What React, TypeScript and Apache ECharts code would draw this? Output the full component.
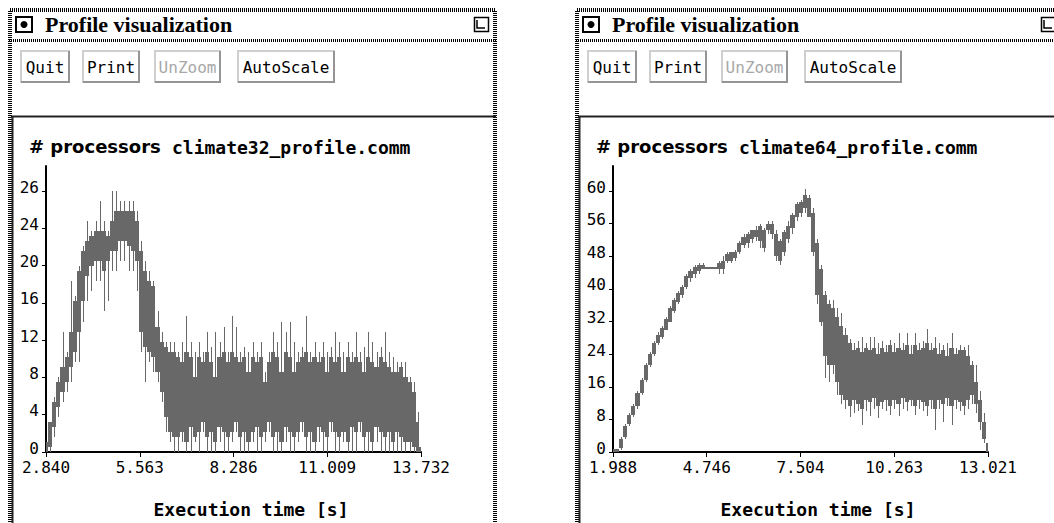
import React, { useEffect, useRef } from "react";
import * as echarts from "echarts";

// ---------------- data ----------------
const windowTitle = "Profile visualization";
const buttonLabels = ["Quit", "Print", "UnZoom", "AutoScale"];
const disabledButton = "UnZoom";
const yAxisTitle = "# processors";
const xAxisTitle = "Execution time [s]";

const leftFile = "climate32_profile.comm";
const leftXTicks = [2.84, 5.563, 8.286, 11.009, 13.732];
const leftYLabels = ["0", "4", "8", "12", "16", "20", "24", "26"];
const leftTime = [
  2.84, 2.96, 3.08, 3.2, 3.32, 3.44, 3.56, 3.68, 3.8, 3.92, 4.04, 4.16, 4.28, 4.4, 4.52, 4.64,
  4.76, 4.88, 5.0, 5.12, 5.24, 5.36, 5.48, 5.6, 5.72, 5.84, 5.96, 6.08, 6.2, 6.32, 6.44, 6.56,
  6.68, 6.8, 6.92, 7.04, 7.16, 7.28, 7.4, 7.52, 7.64, 7.76, 7.88, 8.0, 8.12, 8.24, 8.36, 8.48,
  8.6, 8.72, 8.84, 8.96, 9.08, 9.2, 9.32, 9.44, 9.56, 9.68, 9.8, 9.92, 10.04, 10.16, 10.28, 10.4,
  10.52, 10.64, 10.76, 10.88, 11.0, 11.12, 11.24, 11.36, 11.48, 11.6, 11.72, 11.84, 11.96, 12.08,
  12.2, 12.32, 12.44, 12.56, 12.68, 12.8, 12.92, 13.04, 13.16, 13.28, 13.4, 13.52, 13.64, 13.73,
];
const leftMin = [
  0, 0, 1.5, 3.5, 5, 6, 7, 9, 9, 13, 15, 16, 17, 17, 14, 15,
  18, 18, 19, 19, 18, 18, 16, 10, 7, 9, 8, 7, 5, 2, 1, 0,
  0, 1, 0, 0, 1, 0, 2, 0, 0, 0, 1, 0, 0, 1, 2, 0,
  0, 0, 1, 0, 0, 1, 2, 0, 0, 0, 1, 0, 0, 1, 2, 0,
  0, 0, 1, 0, 0, 2, 0, 0, 1, 0, 0, 0, 2, 0,
  0, 0, 1, 0, 0, 0, 0, 0, 0, 0, 0, 0, 0, 0,
];
const leftLow = [
  0, 0.5, 2.5, 4.5, 6, 7, 8.5, 10, 12, 15, 17.5, 18.5, 19, 19, 18, 19,
  20, 20, 21, 21, 20.5, 20, 19, 12, 10.5, 10, 9.5, 8, 6, 3.5, 2, 1.5,
  1.5, 2, 1, 2.5, 1.5, 2, 3, 1.5, 2, 1, 2.5, 2, 1.5, 2, 3, 1.5,
  2, 1, 2, 2.5, 1.5, 2, 3, 1.5, 2, 1, 2.5, 2, 1.5, 2, 3, 1.5,
  2, 1, 2.5, 2, 1.5, 3, 2, 1.5, 2, 1, 2.5, 2, 3, 1.5,
  2, 1, 2.5, 2, 1.5, 2, 1, 2, 1.5, 1, 1, 0.5, 0, 0,
];
const leftHigh = [
  1, 3, 5, 7, 8.5, 9.5, 12, 15, 18, 20, 21, 21.5, 22, 22, 22, 21.5,
  23, 24, 24, 24, 24, 24, 23, 20, 18, 17, 16.5, 12.5, 11, 10.5, 10, 10,
  9.5, 9, 10, 9.5, 7.5, 9.5, 9, 10, 9, 7.5, 9.5, 10, 9, 10, 9.5, 9,
  9.5, 8, 9.5, 9, 9.5, 7, 9, 10, 9.5, 8, 10, 9.5, 8, 9, 9.5, 10,
  9, 9.5, 9, 9.5, 8, 9.5, 9, 9.5, 8, 9.5, 9, 9.5, 9, 8,
  9.5, 9, 8.5, 9.5, 9, 8.5, 8, 8, 8.5, 7.5, 7, 6, 3, 0.5,
];
const leftMax = [
  1, 3, 5.5, 7.5, 12, 10, 17, 15.5, 18.5, 20.5, 23, 22, 23, 25, 23, 22,
  26, 26, 25, 25, 25, 25, 24, 21, 19, 18, 17, 14, 12, 11, 11, 11,
  10, 11, 13.5, 11, 10, 11, 10, 12, 10.5, 12, 11, 12.5, 10, 13.5, 12.5, 10,
  10.5, 10, 11, 10, 11, 8, 10, 12, 11, 13, 12, 13, 11, 10, 10.5, 13.5,
  10, 11, 10, 11, 10, 10.5, 12, 11, 10, 11, 10, 12, 10, 10.5,
  12, 11, 10, 10.5, 12, 10, 9.5, 9, 9, 9, 7.5, 7, 4, 1,
];

const rightFile = "climate64_profile.comm";
const rightXTicks = [1.988, 4.746, 7.504, 10.263, 13.021];
const rightYLabels = ["0", "8", "16", "24", "32", "40", "48", "56", "60"];
const rightTime = [
  1.988, 2.108, 2.228, 2.348, 2.468, 2.588, 2.708, 2.828, 2.948, 3.068, 3.188, 3.308, 3.428, 3.548,
  3.668, 3.788, 3.908, 4.028, 4.148, 4.268, 4.388, 4.508, 4.628, 4.748, 4.868, 4.988, 5.108, 5.228,
  5.348, 5.468, 5.588, 5.708, 5.828, 5.948, 6.068, 6.188, 6.308, 6.428, 6.548, 6.668, 6.788, 6.908,
  7.028, 7.148, 7.268, 7.388, 7.508, 7.628, 7.748, 7.868, 7.988, 8.108, 8.228, 8.348, 8.468, 8.588,
  8.708, 8.828, 8.948, 9.068, 9.188, 9.308, 9.428, 9.548, 9.668, 9.788, 9.908, 10.028, 10.148,
  10.268, 10.388, 10.508, 10.628, 10.748, 10.868, 10.988, 11.108, 11.228, 11.348, 11.468, 11.588,
  11.708, 11.828, 11.948, 12.068, 12.188, 12.308, 12.428, 12.548, 12.668, 12.788, 12.908, 13.021,
];
const rightMin = [
  0, 0, 0.5, 3, 6, 8, 10, 13, 16, 19.5, 22, 24.5, 26, 28, 30, 32, 34, 35.5, 37.5, 39, 40, 41, 42,
  42, 42, 42,
  41, 41, 43.5, 43.5, 44, 45.5, 47, 47, 48, 48.5, 47, 46, 50, 49, 44, 43, 45, 48, 50, 53, 54, 55, 54, 45,
  34, 29, 17, 16, 18, 13, 11, 10, 8,
  9, 9.5, 6.2, 9.5, 8.2, 10, 7.8, 10, 9.5, 8.5, 10, 8.2, 10, 9.5, 10.5, 8.5, 10, 9.5, 8.2, 10,
  5.1, 10, 7, 10.5, 6.2, 10, 9.5, 8.5, 10,
  11, 9, 5, 2, 0,
];
const rightLow = [
  0, 0, 1, 3.5, 6.5, 8.5, 10.5, 13.5, 16.5, 20, 22.5, 25, 26.5, 28, 30, 32.5, 34.5, 36, 38, 40, 41, 41.5, 42,
  42, 42, 42,
  42, 42, 44, 44, 44.5, 46, 47.5, 48, 49, 49.5, 48.5, 47, 51, 50, 45, 44, 46, 49, 51.5, 54, 55, 56, 54, 46,
  36, 30, 22, 20, 20, 16, 13, 12, 10.5,
  12, 11, 10, 12, 11.5, 12.5, 10.5, 11.5, 12, 10.5, 12, 11, 12.5, 11.5, 12, 10.5, 12, 11.5, 10.5, 12,
  10, 12, 11, 12.5, 10.5, 12, 11.5, 10.5, 12,
  13, 11, 7, 3, 0,
];
const rightHigh = [
  0.6, 0.6, 3, 6, 8.5, 10.5, 13.5, 16.5, 20, 22.5, 25, 27, 28.5, 30.5, 33, 35, 36.5, 38, 40.5, 41.5, 42.5, 43, 43,
  42.6, 42.6, 42.6,
  43.5, 44, 45.5, 46, 46, 48, 49.5, 50, 51, 51, 52, 51, 52.5, 52.5, 50, 48.5, 50.5, 52, 54.5, 57, 57.5, 59, 58.5, 55,
  48, 42, 36, 34, 33, 31, 29, 27, 25,
  23.5, 24, 23, 24, 23.5, 24, 22.5, 24, 23, 24.5, 23, 24, 23.5, 24.5, 22.5, 24.5, 23.5, 24, 25, 23.5,
  24, 22.5, 23.5, 22, 24, 22.5, 23.5, 23.5, 22,
  20, 16, 12, 7, 2,
];
const rightMax = [
  0.6, 0.6, 3.5, 6.5, 9, 11, 14, 17, 20.5, 23, 25.5, 27.5, 29, 31, 33.5, 35.5, 37, 38.5, 41, 42, 43, 43.5, 43.5,
  42.6, 42.6, 42.6,
  44, 45, 46, 46, 46.5, 48.5, 50, 50.5, 51, 52, 52.5, 51.5, 53, 53, 51, 49, 51, 53, 55, 57.5, 58, 60.5, 59, 56,
  49, 43, 37, 35, 35, 33, 32, 28.5, 26,
  25, 25.5, 26.5, 25, 26.5, 26.5, 25, 25.5, 24.5, 25.7, 25, 27.3, 25, 27.3, 24.5, 27.3, 25, 25.5, 28.3, 25,
  26.5, 25, 24.5, 25, 27.3, 24, 24.5, 24.2, 24.5,
  21, 20, 14, 9, 3,
];

// ---------------- layout / style ----------------
const WIN_DX = 567; // horizontal offset of the second window
const GRID = { left: 46, top: 166, width: 375, height: 286 };
const Y_HEADROOM = 286 / 261; // axis line runs above the last labelled tick
const GRAY = "#686868";
const MONO = '"DejaVu Sans Mono", monospace';

function bandRenderer(times: number[]) {
  return (params: any, api: any) => {
    const k = params.dataIndex;
    const n = times.length;
    const t = api.value(0);
    const xk = api.coord([t, 0])[0];
    const xNextRaw = k + 1 < n ? api.coord([times[k + 1], 0])[0] : NaN;
    const xPrevRaw = k > 0 ? api.coord([times[k - 1], 0])[0] : NaN;
    const xNext = isNaN(xNextRaw) ? xk + (xk - xPrevRaw) : xNextRaw;
    const xPrev = isNaN(xPrevRaw) ? xk - (xNext - xk) : xPrevRaw;
    const left = Math.round((xPrev + xk) / 2);
    const right = Math.round((xk + xNext) / 2);
    const yMin = Math.round(api.coord([t, api.value(1)])[1]);
    const yLo = Math.round(api.coord([t, api.value(2)])[1]);
    const yHi = Math.round(api.coord([t, api.value(3)])[1]);
    const yMax = Math.round(api.coord([t, api.value(4)])[1]);
    const cx = Math.round(xk) + 0.5;
    return {
      type: "group",
      children: [
        {
          type: "rect",
          shape: { x: left, y: yHi, width: Math.max(1, right - left), height: Math.max(1, yLo - yHi) },
          style: { fill: GRAY },
        },
        {
          type: "line",
          shape: { x1: cx, y1: yMin, x2: cx, y2: yMax },
          style: { stroke: GRAY, lineWidth: 1 },
        },
      ],
    };
  };
}

function makeX(gridIndex: number, ticks: number[]) {
  return {
    type: "value",
    gridIndex,
    min: ticks[0],
    max: ticks[ticks.length - 1],
    axisLine: { show: true, onZero: false, lineStyle: { color: "#000", width: 2 } },
    axisTick: { show: true, length: 5, customValues: ticks, lineStyle: { color: "#000", width: 1 } },
    axisLabel: {
      customValues: ticks,
      formatter: (v: number) => v.toFixed(3),
      color: "#000",
      fontFamily: MONO,
      fontSize: 16,
      margin: 7,
    },
    splitLine: { show: false },
  };
}

function makeY(gridIndex: number, labels: string[]) {
  const top = Number(labels[labels.length - 1]);
  const n = labels.length - 1;
  const pos = labels.map((_, i) => (i * top) / n);
  return {
    type: "value",
    gridIndex,
    min: 0,
    max: top * Y_HEADROOM,
    axisLine: { show: true, onZero: false, lineStyle: { color: "#000", width: 2 } },
    axisTick: { show: true, length: 4, customValues: pos, lineStyle: { color: "#000", width: 1 } },
    axisLabel: {
      customValues: pos,
      formatter: (v: number) => labels[Math.round((v * n) / top)] ?? "",
      color: "#000",
      fontFamily: MONO,
      fontSize: 16,
      margin: 7,
      verticalAlign: "bottom",
      lineHeight: 8,
    },
    splitLine: { show: false },
  };
}

function makeSeries(idx: number, times: number[], mn: number[], lo: number[], hi: number[], mx: number[]) {
  return {
    type: "custom",
    xAxisIndex: idx,
    yAxisIndex: idx,
    clip: true,
    data: times.map((t, k) => [t, mn[k], lo[k], hi[k], mx[k]]),
    encode: { x: 0, y: [1, 2, 3, 4] },
    renderItem: bandRenderer(times),
  };
}

function txt(x: number, y: number, text: string, font: string, fill = "#000", align = "left") {
  return {
    type: "text",
    x,
    y,
    silent: true,
    style: { text, font, fill, align, verticalAlign: "middle", textAlign: align, textVerticalAlign: "middle" },
  };
}

const buttonBoxes = [
  { x: 20, w: 50 },
  { x: 82, w: 58 },
  { x: 154, w: 67 },
  { x: 237, w: 98 },
];

function chrome(ox: number, fileName: string) {
  const els: any[] = [];
  // stippled window frame
  els.push({
    type: "rect",
    silent: true,
    shape: { x: ox + 10, y: 10, width: 485, height: 620 },
    style: { fill: "none", stroke: "#000", lineWidth: 4, lineDash: [1, 1] },
  });
  // title separator
  els.push({
    type: "line",
    silent: true,
    shape: { x1: ox + 9, y1: 40.5, x2: ox + 496, y2: 40.5 },
    style: { stroke: "#000", lineWidth: 3, lineDash: [1, 1] },
  });
  // window menu button
  els.push({
    type: "rect",
    silent: true,
    shape: { x: ox + 16, y: 17, width: 16, height: 15 },
    style: { fill: "#fff", stroke: "#000", lineWidth: 2 },
  });
  els.push({ type: "circle", silent: true, shape: { cx: ox + 24, cy: 24.5, r: 3.5 }, style: { fill: "#000" } });
  els.push(txt(ox + 45, 24, windowTitle, 'bold 22px "Liberation Serif", serif'));
  // maximize icon
  els.push({
    type: "rect",
    silent: true,
    shape: { x: ox + 474.5, y: 17.5, width: 14, height: 14 },
    style: { fill: "#fff", stroke: "#000", lineWidth: 1.5 },
  });
  els.push({
    type: "polyline",
    silent: true,
    shape: { points: [[ox + 477, 20], [ox + 477, 28], [ox + 485, 28]] },
    style: { fill: "none", stroke: "#000", lineWidth: 1.5 },
  });
  // buttons
  buttonLabels.forEach((label, i) => {
    const b = buttonBoxes[i];
    const x = ox + b.x;
    els.push({
      type: "rect",
      silent: true,
      shape: { x: x + 1, y: 51, width: b.w - 2, height: 31 },
      style: { fill: "#fff", stroke: "#cfcfcf", lineWidth: 2 },
    });
    els.push({
      type: "polyline",
      silent: true,
      shape: { points: [[x + 1, 82], [x + b.w - 1, 82], [x + b.w - 1, 51]] },
      style: { fill: "none", stroke: "#959595", lineWidth: 2 },
    });
    els.push(
      txt(x + b.w / 2, 67, label, `16px ${MONO}`, label === disabledButton ? "#a8a8a8" : "#000", "center")
    );
  });
  // sunken plot panel
  els.push({
    type: "line",
    silent: true,
    shape: { x1: ox + 11, y1: 116.5, x2: ox + 496, y2: 116.5 },
    style: { stroke: "#222", lineWidth: 2 },
  });
  els.push({
    type: "line",
    silent: true,
    shape: { x1: ox + 12.5, y1: 116, x2: ox + 12.5, y2: 530 },
    style: { stroke: "#222", lineWidth: 2 },
  });
  // texts of the plot
  els.push(txt(ox + 29, 146, yAxisTitle, 'bold 18px "DejaVu Sans", sans-serif'));
  els.push(txt(ox + 172, 147, fileName, `bold 18px ${MONO}`));
  els.push(txt(ox + 251, 509, xAxisTitle, `bold 18px ${MONO}`, "#000", "center"));
  return els;
}

const option: any = {
  animation: false,
  backgroundColor: "#fff",
  grid: [
    { left: GRID.left, top: GRID.top, width: GRID.width, height: GRID.height },
    { left: GRID.left + WIN_DX, top: GRID.top, width: GRID.width, height: GRID.height },
  ],
  xAxis: [makeX(0, leftXTicks), makeX(1, rightXTicks)],
  yAxis: [makeY(0, leftYLabels), makeY(1, rightYLabels)],
  series: [
    makeSeries(0, leftTime, leftMin, leftLow, leftHigh, leftMax),
    makeSeries(1, rightTime, rightMin, rightLow, rightHigh, rightMax),
  ],
  graphic: { elements: [...chrome(0, leftFile), ...chrome(WIN_DX, rightFile)] },
};

export default function App() {
  const ref = useRef<HTMLDivElement>(null);
  useEffect(() => {
    if (!ref.current) return;
    const chart = echarts.init(ref.current, null, { renderer: "svg" });
    chart.setOption(option);
    return () => chart.dispose();
  }, []);
  return (
    <div
      ref={ref}
      style={{ position: "absolute", left: 0, top: 0, width: 1054, height: 523, background: "#fff" }}
    />
  );
}
